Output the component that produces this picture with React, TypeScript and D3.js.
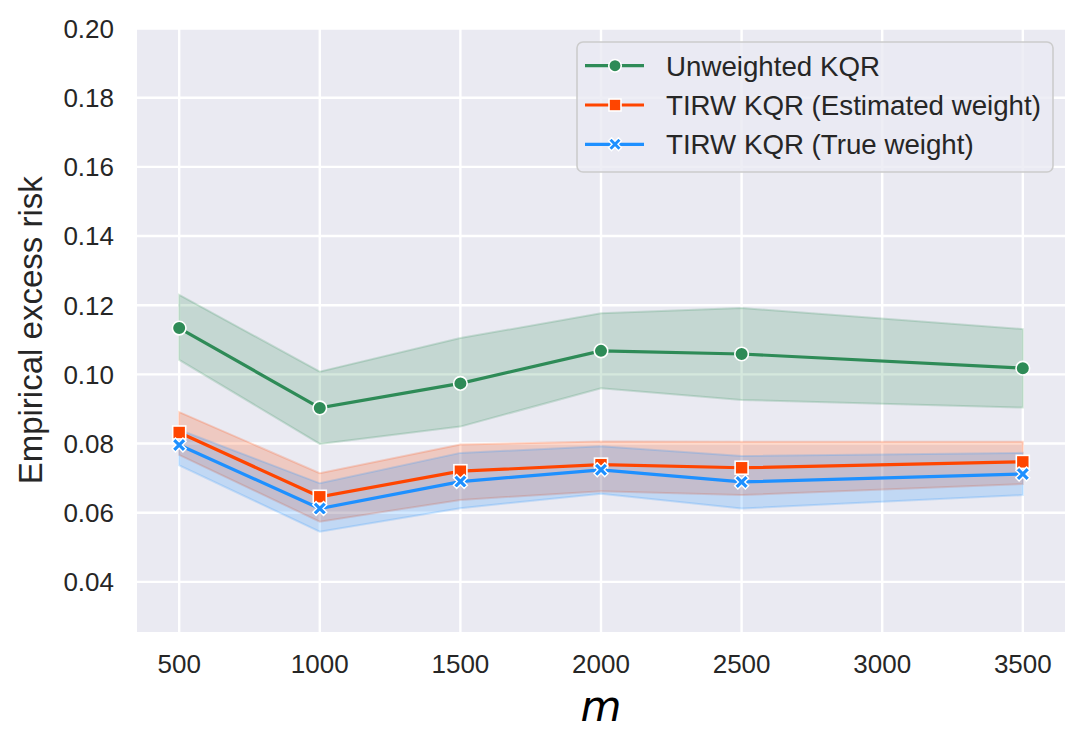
import { useEffect, useRef } from 'react';
import * as d3 from 'd3';

// sample sizes m
const ms = [500, 1000, 1500, 2000, 2500, 3500];

// mean excess risk and confidence band per method
const unweighted = [0.1134, 0.0903, 0.0974, 0.1068, 0.1059, 0.1018];
const unweightedLo = [0.1042, 0.0799, 0.0849, 0.096, 0.0926, 0.0904];
const unweightedHi = [0.123, 0.1008, 0.1105, 0.1177, 0.1192, 0.1131];

const estimated = [0.0832, 0.0646, 0.072, 0.0739, 0.073, 0.0747];
const estimatedLo = [0.0767, 0.0574, 0.0637, 0.0662, 0.0651, 0.0683];
const estimatedHi = [0.0891, 0.0714, 0.0797, 0.0806, 0.0805, 0.0805];

const trueW = [0.0796, 0.0612, 0.069, 0.0724, 0.0689, 0.0712];
const trueLo = [0.0737, 0.0545, 0.0613, 0.0655, 0.0612, 0.0651];
const trueHi = [0.084, 0.0685, 0.0773, 0.0792, 0.0764, 0.0773];

const xTicks = [500, 1000, 1500, 2000, 2500, 3000, 3500];
const yTicks = [0.04, 0.06, 0.08, 0.1, 0.12, 0.14, 0.16, 0.18, 0.2];

const labels = ['Unweighted KQR', 'TIRW KQR (Estimated weight)', 'TIRW KQR (True weight)'];
const colors = ['#2e8b57', '#ff4500', '#1e90ff'];
const markers = ['circle', 'square', 'x'];

const W = 1085;
const H = 748;
const plot = { left: 137, right: 1065, top: 28.6, bottom: 632 };
const font = '"Liberation Sans", Arial, sans-serif';
const textColor = '#262626';

// filled "X" marker, a plus rotated 45 degrees
const xMarkerPath = (len: number, hw: number) => {
  const pts: [number, number][] = [
    [hw, hw], [hw, len], [-hw, len], [-hw, hw], [-len, hw], [-len, -hw],
    [-hw, -hw], [-hw, -len], [hw, -len], [hw, -hw], [len, -hw], [len, hw],
  ];
  const c = Math.SQRT1_2;
  return 'M' + pts.map(([a, b]) => `${(a - b) * c},${(a + b) * c}`).join('L') + 'Z';
};

const drawMarker = (
  g: d3.Selection<SVGGElement, unknown, null, undefined>,
  kind: string,
  cx: number,
  cy: number,
  color: string,
  scale = 1
) => {
  if (kind === 'circle') {
    g.append('circle').attr('cx', cx).attr('cy', cy).attr('r', 6.8 * scale)
      .attr('fill', color).attr('stroke', '#fff').attr('stroke-width', 1.6);
  } else if (kind === 'square') {
    const s = 13 * scale;
    g.append('rect').attr('x', cx - s / 2).attr('y', cy - s / 2).attr('width', s).attr('height', s)
      .attr('fill', color).attr('stroke', '#fff').attr('stroke-width', 1.6);
  } else {
    g.append('path').attr('d', xMarkerPath(7.6 * scale, 2.3 * scale))
      .attr('transform', `translate(${cx},${cy})`)
      .attr('fill', color).attr('stroke', '#fff').attr('stroke-width', 1.4);
  }
};

export default function App() {
  const svgRef = useRef<SVGSVGElement>(null);

  useEffect(() => {
    document.body.style.margin = '0';
    if (!svgRef.current) return;
    const svg = d3.select(svgRef.current);
    svg.selectAll('*').remove();

    const x = d3.scaleLinear().domain([350, 3650]).range([plot.left, plot.right]);
    const y = d3.scaleLinear().domain([0.0255, 0.2]).range([plot.bottom, plot.top]);

    // background
    svg.append('rect').attr('width', W).attr('height', H).attr('fill', '#fff');
    svg.append('rect')
      .attr('x', plot.left).attr('y', plot.top)
      .attr('width', plot.right - plot.left).attr('height', plot.bottom - plot.top)
      .attr('fill', '#eaeaf2');

    // grid
    const grid = svg.append('g');
    xTicks.forEach(t => {
      grid.append('line').attr('x1', x(t)).attr('x2', x(t)).attr('y1', plot.top).attr('y2', plot.bottom)
        .attr('stroke', '#fff').attr('stroke-width', 2.4);
    });
    yTicks.forEach(t => {
      grid.append('line').attr('x1', plot.left).attr('x2', plot.right).attr('y1', y(t)).attr('y2', y(t))
        .attr('stroke', '#fff').attr('stroke-width', 2.4);
    });

    const series = [
      { mean: unweighted, lo: unweightedLo, hi: unweightedHi },
      { mean: estimated, lo: estimatedLo, hi: estimatedHi },
      { mean: trueW, lo: trueLo, hi: trueHi },
    ];

    // bands first (drawn below lines)
    series.forEach((s, k) => {
      const a = d3.area<number>()
        .x((_, i) => x(ms[i]))
        .y0((_, i) => y(s.lo[i]))
        .y1((_, i) => y(s.hi[i]));
      svg.append('path')
        .attr('d', a(s.mean) || '')
        .attr('fill', colors[k]).attr('fill-opacity', 0.2)
        .attr('stroke', colors[k]).attr('stroke-opacity', 0.2).attr('stroke-width', 2);
    });

    const line = d3.line<number>().x((_, i) => x(ms[i])).y(d => y(d));
    series.forEach((s, k) => {
      const g = svg.append('g');
      g.append('path').attr('d', line(s.mean) || '')
        .attr('fill', 'none').attr('stroke', colors[k]).attr('stroke-width', 3.2);
      s.mean.forEach((v, i) => drawMarker(g, markers[k], x(ms[i]), y(v), colors[k]));
    });

    // tick labels
    xTicks.forEach(t => {
      svg.append('text').attr('x', x(t)).attr('y', 673)
        .attr('text-anchor', 'middle').attr('font-family', font).attr('font-size', 26)
        .attr('fill', textColor).text(String(t));
    });
    yTicks.forEach(t => {
      svg.append('text').attr('x', 114).attr('y', y(t)).attr('dy', '0.36em')
        .attr('text-anchor', 'end').attr('font-family', font).attr('font-size', 26)
        .attr('fill', textColor).text(d3.format('.2f')(t));
    });

    // axis labels
    svg.append('text').attr('transform', `translate(42,${(plot.top + plot.bottom) / 2}) rotate(-90)`)
      .attr('text-anchor', 'middle').attr('font-family', font).attr('font-size', 33)
      .attr('fill', textColor).text('Empirical excess risk');
    svg.append('text').attr('x', (plot.left + plot.right) / 2).attr('y', 721)
      .attr('text-anchor', 'middle').attr('font-family', '"DejaVu Sans", sans-serif')
      .attr('font-style', 'italic').attr('font-size', 42).attr('fill', '#000').text('m');

    // legend
    const lg = svg.append('g');
    lg.append('rect').attr('x', 577).attr('y', 42).attr('width', 476).attr('height', 130).attr('rx', 6)
      .attr('fill', '#eaeaf2').attr('fill-opacity', 0.8).attr('stroke', '#cccccc').attr('stroke-width', 1.6);
    labels.forEach((lab, k) => {
      const cy = 65.7 + k * 39.3;
      lg.append('line').attr('x1', 585).attr('x2', 644).attr('y1', cy).attr('y2', cy)
        .attr('stroke', colors[k]).attr('stroke-width', 3.2);
      drawMarker(lg, markers[k], 615, cy, colors[k], 0.92);
      lg.append('text').attr('x', 666).attr('y', cy).attr('dy', '0.36em')
        .attr('font-family', font).attr('font-size', 27.7).attr('fill', textColor).text(lab);
    });
  }, []);

  return <svg ref={svgRef} width={W} height={H} style={{ display: 'block' }} />;
}
